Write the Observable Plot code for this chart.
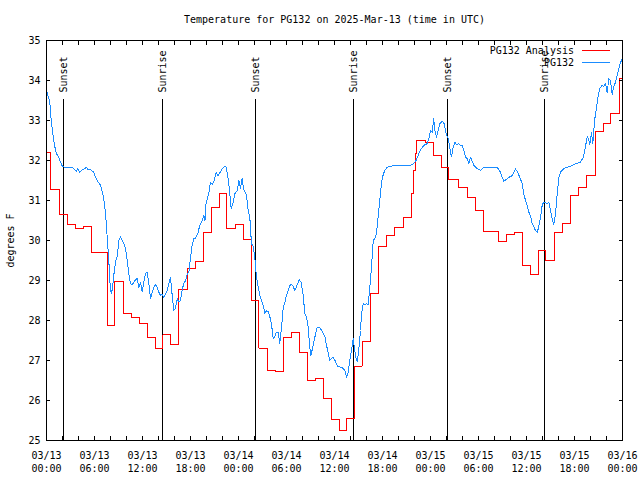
<!DOCTYPE html>
<html><head><meta charset="utf-8">
<script src="https://cdn.jsdelivr.net/npm/d3@7"></script>
<script src="https://cdn.jsdelivr.net/npm/@observablehq/plot@0.6"></script>
<style>
html,body{margin:0;padding:0;background:#fff;}
svg{display:block}
svg path, svg line{shape-rendering:crispEdges;}
</style>
</head><body>
<div id="chart"></div>
<script>
const titleText = "Temperature for PG132 on 2025-Mar-13 (time in UTC)";
const yLabel = "degrees F";
const seriesNames = ["PG132 Analysis", "PG132"];
const startTime = "2025-03-13T00:00:00Z";

// PG132 Analysis: [hours since start, temperature °F] (stepped)
const analysisReadings = [
  [0,32.2],[0.55,31.27],[1.6,30.64],[2.6,30.39],[3.6,30.3],[4.6,30.36],[5.6,29.69],
  [7.6,27.87],[8.55,28.97],[9.6,28.17],[10.6,28.07],[11.65,27.92],[12.6,27.58],[13.6,27.29],
  [14.55,27.64],[15.5,27.39],[16.55,28.77],[17.6,29.29],[18.6,29.47],[19.6,30.19],[20.6,30.83],
  [21.6,31.17],[22.55,30.3],[23.6,30.39],[24.6,30.02],[25.6,28.5],[26.55,27.31],[27.6,26.75],
  [28.6,26.73],[29.6,27.57],[30.6,27.71],[31.6,27.21],[32.6,26.5],[33.6,26.56],[34.6,26.04],
  [35.6,25.52],[36.6,25.25],[37.5,25.55],[38.45,26.86],[39.45,27.48],[40.5,28.67],[41.5,29.86],
  [42.5,30.13],[43.5,30.33],[44.6,30.58],[45.6,31.17],[45.9,31.75],[46.1,32.17],[46.3,32.5],
  [47.4,32.44],[48.4,32.13],[49.4,31.83],[50.3,31.53],[51.5,31.33],[52.6,31.08],[53.6,30.75],
  [54.6,30.22],[56.5,29.97],[57.5,30.15],[58.5,30.21],[59.5,29.38],[60.5,29.14],[61.5,29.75],
  [62.4,29.5],[63.5,30.21],[64.5,30.42],[65.5,31.13],[66.5,31.33],[67.5,31.63],[68.6,32.73],
  [69.6,32.93],[70.5,33.18],[71.6,34.04],[72,34.04]
];

// PG132 observations: [hours since start, temperature °F]
const stationReadings = [
  [0,33.75],[0.41,33.46],[0.59,33.0],[0.79,32.67],[1.0,32.38],[1.25,32.17],[1.54,32.08],[1.75,31.96],
  [2.0,31.85],[2.25,31.83],[3.21,31.83],[3.41,31.8],[3.75,31.73],[3.91,31.8],[4.16,31.7],[4.46,31.76],
  [5.0,31.83],[5.16,31.77],[5.41,31.78],[5.71,31.74],[5.91,31.71],[6.12,31.58],[6.34,31.5],[6.75,31.38],
  [7.04,31.17],[7.25,30.92],[7.38,30.67],[7.59,30.08],[7.79,29.5],[7.91,29.0],[8.09,28.67],[8.25,28.8],
  [8.41,29.13],[8.62,29.46],[8.84,29.6],[9.04,30.0],[9.25,30.1],[9.46,30.0],[9.66,29.92],[9.88,29.8],
  [10.09,29.5],[10.29,29.17],[10.5,28.92],[10.71,28.9],[10.91,28.95],[11.12,29.02],[11.34,29.05],[11.54,28.83],
  [11.75,28.95],[11.96,28.71],[12.16,28.95],[12.38,29.18],[12.59,29.2],[12.79,28.92],[13.0,28.54],[13.21,28.7],
  [13.41,28.83],[13.62,28.9],[13.84,28.83],[14.04,28.71],[14.25,28.63],[14.46,28.65],[14.66,28.58],[14.88,28.65],
  [15.09,28.75],[15.29,28.92],[15.5,29.08],[15.71,28.63],[15.91,28.25],[16.12,28.3],[16.34,28.54],[16.54,28.46],
  [16.75,28.5],[16.96,28.77],[17.16,28.92],[17.38,29.0],[17.59,29.17],[17.79,29.2],[18.0,29.58],[18.21,29.88],
  [18.41,30.04],[18.62,30.05],[18.91,30.17],[19.16,30.38],[19.38,30.46],[19.66,30.63],[19.81,30.5],[19.88,30.85],
  [20.09,31.04],[20.29,31.17],[20.5,31.46],[20.71,31.4],[20.91,31.46],[21.21,31.71],[21.44,31.62],[21.75,31.72],
  [21.96,31.79],[22.25,31.85],[22.46,31.84],[22.66,31.6],[22.88,31.25],[23.09,30.79],[23.34,30.96],[23.54,31.17],
  [23.84,31.25],[24.06,31.5],[24.25,31.3],[24.44,31.55],[24.62,31.3],[25.0,31.13],[25.21,30.75],[25.41,30.6],
  [25.62,29.92],[25.84,29.85],[26.04,29.58],[26.25,29.08],[26.46,28.83],[26.66,28.63],[26.88,28.5],[27.09,28.38],
  [27.29,28.17],[27.5,28.25],[27.71,28.22],[27.91,28.1],[28.12,27.92],[28.34,27.54],[28.54,27.6],[28.75,27.71],
  [28.96,27.71],[29.16,27.42],[29.38,27.83],[29.59,28.33],[29.79,28.45],[30.0,28.63],[30.21,28.75],[30.41,28.88],
  [30.62,28.9],[30.84,28.85],[31.04,28.75],[31.25,28.85],[31.59,29.02],[31.84,28.95],[32.09,28.63],[32.29,28.17],
  [32.5,28.1],[32.71,27.83],[32.91,27.33],[33.04,27.13],[33.25,27.3],[33.54,27.58],[33.84,27.83],[34.16,27.83],
  [34.5,27.71],[34.79,27.6],[35.0,27.38],[35.21,27.2],[35.41,27.0],[35.62,27.05],[35.84,27.08],[36.12,26.98],
  [36.38,26.85],[36.88,26.83],[37.09,26.8],[37.29,26.75],[37.5,26.58],[37.71,26.7],[37.91,27.0],[38.12,27.25],
  [38.34,27.54],[38.5,27.3],[38.66,27.08],[38.84,26.96],[39.0,27.2],[39.25,27.75],[39.38,28.17],[39.59,28.42],
  [39.79,28.4],[40.0,28.42],[40.21,28.4],[40.41,28.83],[40.62,29.33],[40.84,30.0],[41.04,30.05],[41.25,30.17],
  [41.46,30.6],[41.66,31.0],[41.88,31.45],[42.09,31.65],[42.29,31.75],[42.59,31.83],[43.0,31.86],[44.25,31.88],
  [45.5,31.88],[45.91,31.92],[46.25,32.02],[46.54,32.17],[46.84,32.29],[47.16,32.38],[47.59,32.42],[47.79,32.55],
  [48.0,32.75],[48.21,32.7],[48.41,33.04],[48.54,32.75],[48.75,32.58],[48.96,32.75],[49.16,32.92],[49.46,32.98],
  [49.66,32.95],[49.88,32.75],[50.0,32.63],[50.16,32.6],[50.38,32.38],[50.5,32.17],[50.62,32.1],[50.84,32.33],
  [51.04,32.46],[51.25,32.4],[51.54,32.42],[51.75,32.38],[51.96,32.38],[52.16,32.25],[52.38,32.08],[52.59,32.05],
  [52.79,31.92],[53.0,32.08],[53.21,31.98],[53.41,31.88],[53.84,31.8],[54.25,31.75],[54.46,31.8],[54.66,31.83],
  [55.5,31.83],[56.34,31.83],[56.75,31.71],[56.96,31.58],[57.16,31.48],[57.44,31.52],[57.79,31.58],[58.21,31.62],
  [58.62,31.79],[58.91,31.7],[59.16,31.58],[59.46,31.42],[59.66,31.17],[59.88,31.0],[60.09,30.88],[60.29,30.71],
  [60.5,30.62],[60.71,30.42],[60.91,30.35],[61.12,30.25],[61.34,30.2],[61.54,30.35],[61.75,30.58],[61.96,30.88],
  [62.16,30.96],[62.59,30.92],[62.79,30.96],[63.0,30.75],[63.21,30.55],[63.41,30.4],[63.62,30.65],[63.84,31.17],
  [64.04,31.58],[64.25,31.71],[64.66,31.8],[65.09,31.83],[65.5,31.86],[65.91,31.9],[66.34,31.93],[66.75,31.96],
  [67.09,32.08],[67.29,32.25],[67.59,32.6],[67.75,32.55],[67.91,32.4],[68.12,32.7],[68.29,32.42],[68.41,32.75],
  [68.54,33.04],[68.75,33.33],[68.96,33.62],[69.16,33.8],[69.46,33.88],[69.66,33.85],[69.88,33.92],[70.09,33.7],
  [70.29,34.05],[70.5,34.0],[70.71,33.65],[70.91,33.85],[71.12,33.95],[71.34,34.13],[71.54,34.3],[71.75,34.45],
  [72.0,34.55]
];

const sunTimes = ["2025-03-13T02:09Z","2025-03-13T14:32Z","2025-03-14T02:08Z","2025-03-14T14:25Z","2025-03-15T02:10Z","2025-03-15T14:17Z"];
const sunLabels = ["Sunset","Sunrise","Sunset","Sunrise","Sunset","Sunrise"];

const xTickTimes = ["2025-03-13T00:00Z","2025-03-13T06:00Z","2025-03-13T12:00Z","2025-03-13T18:00Z",
  "2025-03-14T00:00Z","2025-03-14T06:00Z","2025-03-14T12:00Z","2025-03-14T18:00Z",
  "2025-03-15T00:00Z","2025-03-15T06:00Z","2025-03-15T12:00Z","2025-03-15T18:00Z","2025-03-16T00:00Z"];
const yTicks = [25,26,27,28,29,30,31,32,33,34,35];

// ---- build tables ----
const t0 = Date.parse(startTime);
const toRow = ([h, v]) => ({time: new Date(t0 + h * 3600e3), temp: v});
const analysis = analysisReadings.map(toRow);
const station = stationReadings.map(toRow);
const sun = sunTimes.map((t, i) => ({time: new Date(t), label: sunLabels[i]}));
const xTicks = xTickTimes.map(t => new Date(t));
const minorTicks = d3.utcHour.every(2).range(xTicks[0], new Date(+xTicks[xTicks.length - 1] + 1));

const RED = "#ff0000", BLUE = "#1a8cff";
const FONT = "DejaVu Sans Mono";
const fmtD = d3.utcFormat("%m/%d"), fmtT = d3.utcFormat("%H:%M");

const chart = Plot.plot({
  width: 640, height: 480,
  marginTop: 40, marginBottom: 40, marginLeft: 46, marginRight: 18,
  style: {fontFamily: FONT, fontSize: "10px", background: "#fff", color: "#000", overflow: "visible"},
  x: {type: "utc", domain: [xTicks[0], xTicks[xTicks.length - 1]]},
  y: {domain: [25, 35]},
  marks: [
    Plot.ruleX(sun, {x: "time", insetTop: 59, stroke: "#000", strokeWidth: 1}),
    Plot.text(sun, {x: "time", text: "label", frameAnchor: "top", dy: 52, rotate: -90,
      textAnchor: "start", lineAnchor: "middle", fill: "#000", fontSize: 10}),
    Plot.line(analysis, {x: "time", y: "temp", curve: "step-after", stroke: RED, strokeWidth: 1}),
    Plot.line(station, {x: "time", y: "temp", stroke: BLUE, strokeWidth: 1}),
    Plot.frame({stroke: "#000", strokeWidth: 1}),
    Plot.axisY(yTicks, {anchor: "left", tickSize: 0, tickPadding: 6, label: yLabel,
      labelAnchor: "center", labelArrow: "none", labelOffset: 40, fill: "#000"}),
    Plot.axisY(yTicks, {anchor: "left", tickSize: -4, fill: "none", label: null, stroke: "#000"}),
    Plot.axisY(yTicks, {anchor: "right", tickSize: -4, fill: "none", label: null, stroke: "#000"}),
    Plot.axisX(xTicks, {anchor: "bottom", tickSize: 0, tickPadding: 9, label: null,
      tickFormat: d => fmtD(d) + "\n" + fmtT(d), lineHeight: 1.3, fill: "#000"}),
    Plot.axisX(minorTicks, {anchor: "bottom", tickSize: -4, fill: "none", label: null, stroke: "#000"}),
    Plot.axisX(minorTicks, {anchor: "top", tickSize: -4, fill: "none", label: null, stroke: "#000"}),
    Plot.text([titleText], {frameAnchor: "top", dy: -21, fontSize: 10, fill: "#000", lineAnchor: "middle"})
  ]
});

// legend (top right, inside the frame)
const svg = d3.select(chart);
const legendColors = [RED, BLUE];
seriesNames.forEach((name, i) => {
  const y = 50 + i * 12.5;
  svg.append("text").attr("x", 574).attr("y", y).attr("text-anchor", "end")
    .attr("dy", "0.35em").attr("font-family", FONT).attr("font-size", 10).attr("fill", "#000").text(name);
  svg.append("line").attr("x1", 582).attr("x2", 610).attr("y1", y).attr("y2", y)
    .attr("stroke", legendColors[i]).attr("stroke-width", 1);
});

document.getElementById("chart").appendChild(chart);
</script>
</body></html>
